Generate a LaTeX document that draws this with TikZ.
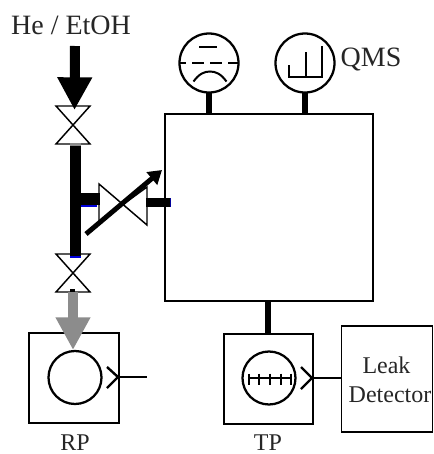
\documentclass[tikz,border=0pt]{standalone}
\usepackage{fontspec}
\setmainfont{Liberation Serif}
\usetikzlibrary{arrows.meta}
\tikzset{
  x=0.75pt,y=-0.75pt,
  box/.style={draw=black,line width=1.8pt,fill=none,inner sep=0pt,outer sep=0pt,minimum width=#1*0.75pt},
  gauge/.style={draw=black,circle,line width=1.7pt,minimum size=59*0.75pt,inner sep=0pt,outer sep=0pt},
  pumpc/.style={draw=black,circle,line width=1.7pt,minimum size=53*0.75pt,inner sep=0pt,outer sep=0pt},
  lab/.style={inner sep=0pt,font=\fontsize{18pt}{20pt}\selectfont,text=black!85},
  biglab/.style={inner sep=0pt,font=\fontsize{21pt}{23pt}\selectfont,text=black!85},
  valve/.style={draw=black,line width=1.1pt,fill=none,line join=miter},
  stem/.style={line width=3.8pt,draw=black},
  thin/.style={line width=1.8pt,draw=black},
  fat/.style={-{Triangle[length=24.5pt,width=24.5pt]},line width=7.5pt},
}
\begin{document}
\begin{tikzpicture}
\useasboundingbox (0,0) rectangle (433,454);
% boxes
\node[box=208,minimum height=187*0.75pt,line width=1.2pt] (chamber) at (269,207.5) {};
\node[box=90,minimum height=90*0.75pt] (rp) at (74,378) {};
\node[box=89,minimum height=90*0.75pt] (tp) at (268.5,379) {};
\node[box=91,minimum height=106*0.75pt,line width=1.2pt,align=center] (leak) at (387,379) {};
% gauges
\node[gauge] (g1) at (209,63) {};
\node[gauge] (g2) at (305,63) {};
\node[pumpc] (rc) at (75,377.5) {};
\node[pumpc] (tc) at (269,378) {};
\draw[stem] (g1.south) -- (g1.south |- chamber.north);
\draw[stem] (g2.south) -- (g2.south |- chamber.north);
\draw[stem] (268,301) -- (268,334);
% gauge 1 interior
\coordinate (g1l) at (g1.west); \coordinate (g1r) at (g1.east);
\draw[line width=1.5pt,dash pattern=on 9pt off 4.5pt,dash phase=4pt] (g1l) -- (g1r);
\draw[line width=1.5pt] (199,47) -- (217,47);
\draw[line width=1.5pt] (193.5,81.5) .. controls (199,74) and (204,71.5) .. (210,71.5) .. controls (216,71.5) and (221,74) .. (226.5,81.5);
% gauge 2 interior
\draw[line width=1.4pt] (289,65) -- (289,77) -- (322,77) -- (322,46);
\draw[line width=1.4pt] (306,52) -- (306,77);
% inlet arrow
\coordinate (inA) at (75,46);
\coordinate (inB) at (74.5,110);
\draw[fat] (inA) -- (inB);
% upper valve
\draw[valve] (56,106) -- (90,106) -- (56,144) -- (90,144) -- cycle;
% main pipe
\draw[line width=11*0.75pt,draw=black] (75.5,145) -- (75.5,256);
\fill[black!45] (70,142.5) rectangle (81,146);
\fill[blue!85!black] (70,255.5) rectangle (81,257.5);
% branch
\fill[blue!85!black] (81,205) rectangle (97,206.5);
\fill[black] (81,193) rectangle (100,205);
% leak valve
\draw[valve] (99,184) -- (147,225) -- (147,187) -- (99,222) -- cycle;
\fill[black] (146,197.5) rectangle (170,207);
\fill[blue!60!black] (170,197.5) rectangle (171,207);
\draw[line width=3.7pt,-{Triangle[length=10pt,width=12pt]}] (86,234) -- (162,170);
% lower valve
\draw[valve] (56,254) -- (90,254) -- (56,292) -- (90,292) -- cycle;
\fill[black] (70,289) rectangle (75,292);
% grey arrow
\draw[fat,black!45] (73,292) -- (73,350);
% pump details
\draw[thin] (107,367) -- (118,377) -- (107,388);
\coordinate (rpout) at (147,377);
\draw[thin] (118,377) -- (rpout);
\draw[line width=1.7pt] (249,378) -- (291,378);
\foreach \tx in {249,259,270,281,291} \draw[line width=1.7pt] (\tx,373.5) -- (\tx,385);
\draw[thin] (301,367) -- (312,378) -- (301,389);
\draw[thin] (312,378) -- (leak.west |- 0,378);
% labels
\node[biglab] (he) at (71,25) {He / EtOH};
\node[biglab] (qms) at (371,59) {QMS};
\node[lab] (rplab) at (75,442.5) {RP};
\node[lab] (tplab) at (268,442.5) {TP};
\node[lab] (l1) at (386.5,365) {Leak};
\node[lab] (l2) at (390,395) {Detector};
\end{tikzpicture}
\end{document}
